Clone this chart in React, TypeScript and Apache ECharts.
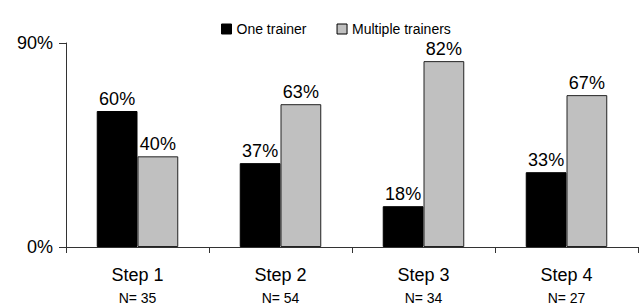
import React, { useEffect, useRef } from "react";
import * as echarts from "echarts";

const categories = ["Step 1", "Step 2", "Step 3", "Step 4"];
const sampleSizes = ["N= 35", "N= 54", "N= 34", "N= 27"];
const oneTrainer = [60, 37, 18, 33];
const multipleTrainers = [40, 63, 82, 67];

export default function App() {
  const ref = useRef<HTMLDivElement>(null);
  useEffect(() => {
    const chart = echarts.init(ref.current!, null, { renderer: "svg" });
    const font = "'Liberation Sans', Arial, sans-serif";
    chart.setOption({
      animation: false,
      textStyle: { fontFamily: font },
      legend: {
        top: 17,
        left: 216,
        icon: "rect",
        itemWidth: 10,
        itemHeight: 10,
        itemGap: 30,
        textStyle: { fontSize: 14, color: "#000", fontFamily: font },
        data: [
          { name: "One trainer", itemStyle: { color: "#000", borderColor: "#000", borderWidth: 1 } },
          { name: "Multiple trainers", itemStyle: { color: "#c0c0c0", borderColor: "#000", borderWidth: 1 } },
        ],
      },
      grid: { left: 66, right: 2, top: 43, bottom: 60 },
      xAxis: {
        type: "category",
        data: categories,
        axisLine: { lineStyle: { color: "#333", width: 1 } },
        axisTick: { show: true, length: 6, lineStyle: { color: "#333" } },
        axisLabel: {
          margin: 16,
          formatter: (v: string, i: number) => `{a|${v}}\n{b|${sampleSizes[i]}}`,
          rich: {
            a: { fontSize: 18, color: "#000", fontFamily: font, lineHeight: 24 },
            b: { fontSize: 14, color: "#000", fontFamily: font, lineHeight: 22 },
          },
        },
      },
      yAxis: {
        type: "value",
        min: 0,
        max: 90,
        interval: 90,
        axisLine: { show: true, lineStyle: { color: "#333", width: 1 } },
        axisTick: { show: true, length: 7, lineStyle: { color: "#333" } },
        splitLine: { show: false },
        axisLabel: { formatter: "{value}%", fontSize: 18, color: "#000", fontFamily: font, margin: 13 },
      },
      series: [
        {
          name: "One trainer",
          type: "bar",
          data: oneTrainer,
          barGap: "0%",
          barCategoryGap: "43%",
          itemStyle: { color: "#000", borderColor: "#000", borderWidth: 1 },
          label: { show: true, position: "top", formatter: "{c}%", fontSize: 18, color: "#000", fontFamily: font, distance: 3 },
        },
        {
          name: "Multiple trainers",
          type: "bar",
          data: multipleTrainers,
          itemStyle: { color: "#c0c0c0", borderColor: "#222", borderWidth: 1 },
          label: { show: true, position: "top", formatter: "{c}%", fontSize: 18, color: "#000", fontFamily: font, distance: 3 },
        },
      ],
    });
    return () => chart.dispose();
  }, []);
  return <div ref={ref} style={{ width: 640, height: 307, position: "fixed", left: 0, top: 0, background: "#fff" }} />;
}
